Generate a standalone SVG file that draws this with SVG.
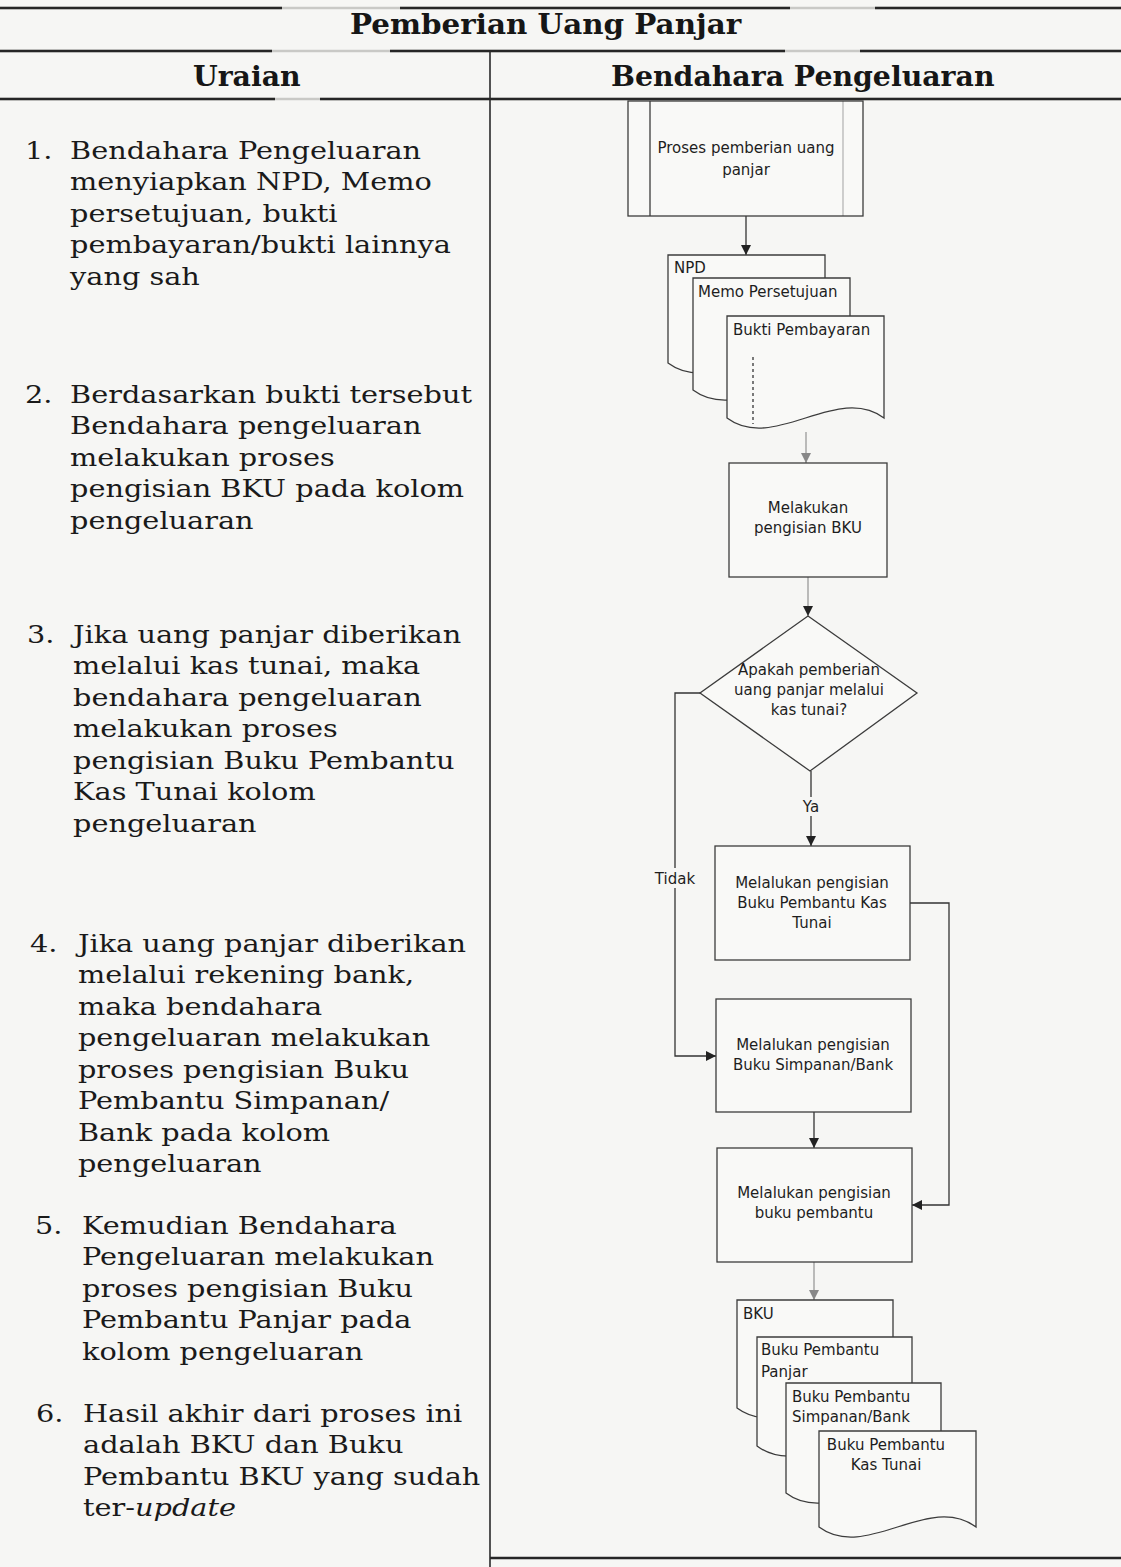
<svg xmlns="http://www.w3.org/2000/svg" width="1121" height="1567" viewBox="0 0 1121 1567">
  <style>
    .paper { fill: #f6f6f4; }
    .rule { stroke: #262626; stroke-width: 2.6; }
    .rule-faint { stroke: #c9c9c6; stroke-width: 2.6; }
    .divider { stroke: #2a2a2a; stroke-width: 1.6; }
    .head { font-family: "DejaVu Serif", "Liberation Serif", serif; font-weight: bold; fill: #161616; }
    .body { font-family: "DejaVu Serif", "Liberation Serif", serif; font-size: 25px; fill: #1a1a1a; }
    .fc { font-family: "DejaVu Sans", "Liberation Sans", sans-serif; font-size: 15px; fill: #1e1e1e; }
    .mid { text-anchor: middle; }
    .shape { fill: #f9f9f7; stroke: #3c3c3c; stroke-width: 1.3; }
    .thin { fill: none; stroke: #3c3c3c; stroke-width: 1.3; }
    .conn { fill: none; stroke: #333; stroke-width: 1.3; }
    .conn-faint { fill: none; stroke: #9a9a9a; stroke-width: 1.3; }
    .dots { fill: none; stroke: #444; stroke-width: 1.4; stroke-dasharray: 3 3; }
  </style>
  <defs>
    <marker id="arrow" viewBox="0 0 10 10" refX="10" refY="5" markerWidth="10" markerHeight="10" markerUnits="userSpaceOnUse" orient="auto">
      <path d="M0,0 L10,5 L0,10 Z" fill="#222"/>
    </marker>
    <marker id="arrow-faint" viewBox="0 0 10 10" refX="10" refY="5" markerWidth="10" markerHeight="10" markerUnits="userSpaceOnUse" orient="auto">
      <path d="M0,0 L10,5 L0,10 Z" fill="#888"/>
    </marker>
  </defs>

  <rect class="paper" x="0" y="0" width="1121" height="1567"/>

  <!-- table rules -->
  <g id="table">
    <line class="rule-faint" x1="0" y1="8" x2="1121" y2="8"/>
    <line class="rule" x1="0" y1="8" x2="282" y2="8"/>
    <line class="rule" x1="400" y1="8" x2="790" y2="8"/>
    <line class="rule" x1="875" y1="8" x2="1121" y2="8"/>
    <line class="rule-faint" x1="0" y1="51" x2="1121" y2="51"/>
    <line class="rule" x1="0" y1="51" x2="272" y2="51"/>
    <line class="rule" x1="390" y1="51" x2="785" y2="51"/>
    <line class="rule" x1="860" y1="51" x2="1121" y2="51"/>
    <line class="rule-faint" x1="0" y1="99" x2="1121" y2="99"/>
    <line class="rule" x1="0" y1="99" x2="275" y2="99"/>
    <line class="rule" x1="320" y1="99" x2="1121" y2="99"/>
    <line class="rule" x1="490" y1="1558" x2="1121" y2="1558"/>
    <line class="divider" x1="490" y1="51" x2="490" y2="1567"/>
  </g>

  <!-- headings -->
  <g id="headings" transform="scale(1.05 1)">
    <text class="head" x="333.3" y="34" font-size="28">Pemberian Uang Panjar</text>
    <text class="head" x="183.8" y="86" font-size="27">Uraian</text>
    <text class="head" x="581.9" y="86" font-size="27">Bendahara Pengeluaran</text>
  </g>

  <!-- step descriptions, left column (serif set slightly wide) -->
  <g id="uraian" class="body" transform="scale(1.15 1)">
    <g id="step-1">
      <text x="21.7" y="159">1.</text>
      <text x="60.9" y="159">Bendahara Pengeluaran</text>
      <text x="60.9" y="190">menyiapkan NPD, Memo</text>
      <text x="60.9" y="222">persetujuan, bukti</text>
      <text x="60.9" y="253">pembayaran/bukti lainnya</text>
      <text x="60.9" y="285">yang sah</text>
    </g>
    <g id="step-2">
      <text x="21.7" y="403">2.</text>
      <text x="60.9" y="403">Berdasarkan bukti tersebut</text>
      <text x="60.9" y="434">Bendahara pengeluaran</text>
      <text x="60.9" y="466">melakukan proses</text>
      <text x="60.9" y="497">pengisian BKU pada kolom</text>
      <text x="60.9" y="529">pengeluaran</text>
    </g>
    <g id="step-3">
      <text x="23.5" y="643">3.</text>
      <text x="63.5" y="643">Jika uang panjar diberikan</text>
      <text x="63.5" y="674">melalui kas tunai, maka</text>
      <text x="63.5" y="706">bendahara pengeluaran</text>
      <text x="63.5" y="737">melakukan proses</text>
      <text x="63.5" y="769">pengisian Buku Pembantu</text>
      <text x="63.5" y="800">Kas Tunai kolom</text>
      <text x="63.5" y="832">pengeluaran</text>
    </g>
    <g id="step-4">
      <text x="26.1" y="952">4.</text>
      <text x="67.8" y="952">Jika uang panjar diberikan</text>
      <text x="67.8" y="983">melalui rekening bank,</text>
      <text x="67.8" y="1015">maka bendahara</text>
      <text x="67.8" y="1046">pengeluaran melakukan</text>
      <text x="67.8" y="1078">proses pengisian Buku</text>
      <text x="67.8" y="1109">Pembantu Simpanan/</text>
      <text x="67.8" y="1141">Bank pada kolom</text>
      <text x="67.8" y="1172">pengeluaran</text>
    </g>
    <g id="step-5">
      <text x="30.4" y="1234">5.</text>
      <text x="71.3" y="1234">Kemudian Bendahara</text>
      <text x="71.3" y="1265">Pengeluaran melakukan</text>
      <text x="71.3" y="1297">proses pengisian Buku</text>
      <text x="71.3" y="1328">Pembantu Panjar pada</text>
      <text x="71.3" y="1360">kolom pengeluaran</text>
    </g>
    <g id="step-6">
      <text x="31.3" y="1422">6.</text>
      <text x="72.2" y="1422">Hasil akhir dari proses ini</text>
      <text x="72.2" y="1453">adalah BKU dan Buku</text>
      <text x="72.2" y="1485">Pembantu BKU yang sudah</text>
      <text x="72.2" y="1516">ter-<tspan font-style="italic">update</tspan></text>
    </g>
  </g>

  <!-- connectors -->
  <g id="connectors">
    <line class="conn" x1="746" y1="216" x2="746" y2="255" marker-end="url(#arrow)"/>
    <line class="conn-faint" x1="806" y1="432" x2="806" y2="463" marker-end="url(#arrow-faint)"/>
    <line class="conn-faint" x1="808" y1="577" x2="808" y2="616" marker-end="url(#arrow)"/>
    <line class="conn" x1="811" y1="771" x2="811" y2="797"/>
    <line class="conn" x1="811" y1="816" x2="811" y2="846" marker-end="url(#arrow)"/>
    <polyline class="conn" points="700,693 675,693 675,1056 716,1056" marker-end="url(#arrow)"/>
    <polyline class="conn" points="910,903 949,903 949,1205 912,1205" marker-end="url(#arrow)"/>
    <line class="conn" x1="814" y1="1112" x2="814" y2="1148" marker-end="url(#arrow)"/>
    <line class="conn-faint" x1="814" y1="1262" x2="814" y2="1300" marker-end="url(#arrow-faint)"/>
  </g>

  <!-- connector labels -->
  <g id="labels" class="fc">
    <text class="mid" x="811" y="812">Ya</text>
    <rect x="652" y="868" width="46" height="20" class="paper"/>
    <text class="mid" x="675" y="884">Tidak</text>
  </g>

  <!-- flow nodes -->
  <g id="proses-panjar">
    <rect class="shape" x="628" y="101" width="235" height="115"/>
    <line class="thin" x1="650" y1="101" x2="650" y2="216"/>
    <line class="thin" x1="843" y1="101" x2="843" y2="216" stroke-opacity="0.35"/>
    <text class="fc mid" x="746" y="153">Proses pemberian uang</text>
    <text class="fc mid" x="746" y="175">panjar</text>
  </g>

  <g id="dok-npd">
    <path class="shape" d="M668,255 H825 V363 C778,328 715,398 668,363 Z"/>
    <text class="fc" x="674" y="273">NPD</text>
  </g>
  <g id="dok-memo">
    <path class="shape" d="M693,278 H850 V390 C803,355 740,425 693,390 Z"/>
    <text class="fc" x="698" y="297">Memo Persetujuan</text>
  </g>
  <g id="dok-bukti">
    <path class="shape" d="M727,316 H884 V418 C837,383 774,453 727,418 Z"/>
    <text class="fc" x="733" y="335">Bukti Pembayaran</text>
    <line class="dots" x1="753" y1="357" x2="753" y2="424"/>
  </g>

  <g id="isi-bku">
    <rect class="shape" x="729" y="463" width="158" height="114"/>
    <text class="fc mid" x="808" y="513">Melakukan</text>
    <text class="fc mid" x="808" y="533">pengisian BKU</text>
  </g>

  <g id="cek-kas-tunai">
    <path class="shape" d="M808,616 L917,693 L810,771 L700,693 Z"/>
    <text class="fc mid" x="809" y="675">Apakah pemberian</text>
    <text class="fc mid" x="809" y="695">uang panjar melalui</text>
    <text class="fc mid" x="809" y="715">kas tunai?</text>
  </g>

  <g id="isi-kas-tunai">
    <rect class="shape" x="715" y="846" width="195" height="114"/>
    <text class="fc mid" x="812" y="888">Melalukan pengisian</text>
    <text class="fc mid" x="812" y="908">Buku Pembantu Kas</text>
    <text class="fc mid" x="812" y="928">Tunai</text>
  </g>

  <g id="isi-simpanan">
    <rect class="shape" x="716" y="999" width="195" height="113"/>
    <text class="fc mid" x="813" y="1050">Melalukan pengisian</text>
    <text class="fc mid" x="813" y="1070">Buku Simpanan/Bank</text>
  </g>

  <g id="isi-pembantu">
    <rect class="shape" x="717" y="1148" width="195" height="114"/>
    <text class="fc mid" x="814" y="1198">Melalukan pengisian</text>
    <text class="fc mid" x="814" y="1218">buku pembantu</text>
  </g>

  <g id="dok-bku">
    <path class="shape" d="M737,1300 H893 V1408 C846,1373 784,1443 737,1408 Z"/>
    <text class="fc" x="743" y="1319">BKU</text>
  </g>
  <g id="dok-pembantu-panjar">
    <path class="shape" d="M757,1337 H912 V1446 C865,1411 803,1481 757,1446 Z"/>
    <text class="fc" x="761" y="1355">Buku Pembantu</text>
    <text class="fc" x="761" y="1377">Panjar</text>
  </g>
  <g id="dok-pembantu-simpanan">
    <path class="shape" d="M786,1383 H941 V1493 C894,1458 832,1528 786,1493 Z"/>
    <text class="fc" x="792" y="1402">Buku Pembantu</text>
    <text class="fc" x="792" y="1422">Simpanan/Bank</text>
  </g>
  <g id="dok-pembantu-kas">
    <path class="shape" d="M819,1431 H976 V1527 C929,1492 866,1562 819,1527 Z"/>
    <text class="fc mid" x="886" y="1450">Buku Pembantu</text>
    <text class="fc mid" x="886" y="1470">Kas Tunai</text>
  </g>
</svg>
